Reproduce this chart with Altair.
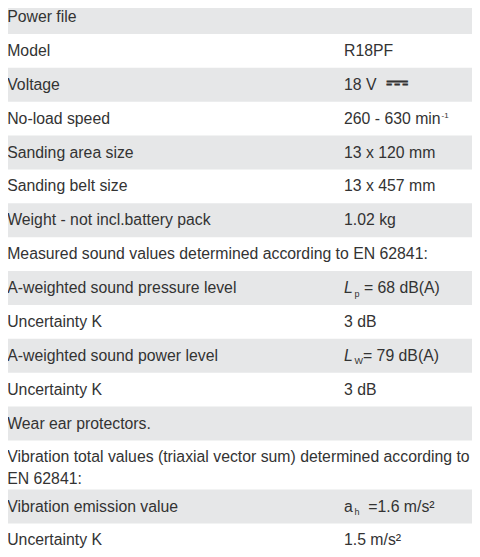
import altair as alt
import pandas as pd

# ---- table content ----
labels = [
    "Power file",
    "Model",
    "Voltage",
    "No-load speed",
    "Sanding area size",
    "Sanding belt size",
    "Weight - not incl.battery pack",
    "Measured sound values determined according to EN 62841:",
    "A-weighted sound pressure level",
    "Uncertainty K",
    "A-weighted sound power level",
    "Uncertainty K",
    "Wear ear protectors.",
    "Vibration total values (triaxial vector sum) determined according to\nEN 62841:",
    "Vibration emission value",
    "Uncertainty K",
]
values = [
    "",
    "R18PF",
    "18 V",
    "260 - 630 min",
    "13 x 120 mm",
    "13 x 457 mm",
    "1.02 kg",
    "",
    "",
    "3 dB",
    "",
    "3 dB",
    "",
    "",
    "",
    "1.5 m/s\u00b2",
]
dc_row = 2
dc_symbol = "\u2393"
sup_row = 3
sup_text = "-1"
# values written with a symbol + subscript
sym_rows = [8, 10, 14]
sym_main = ["L", "L", "a"]
sym_italic = [True, True, False]
sym_sub = ["p", "W", "h"]
sym_rest = ["= 68 dB(A)", "= 79 dB(A)", "=1.6 m/s\u00b2"]
sym_gap = [1, 0, 2]   # spaces before the rest of the text

# ---- layout (styles) ----
PITCH = 33.88          # pixel height of a one-line row
EXTRA = 0.45           # extra row units per additional text line
W, HT = 464, 541
Y0 = 8                 # first visible pixel of the table
FONT = "Liberation Sans, Arial, DejaVu Sans, sans-serif"
TXT = "#333333"
GRAY = "#e6e7e8"
FS = 15.8
DY = 22
VAL_X = 336
SPACE = 4.4

tops, bottoms = [], []
t = 0.0
for lab in labels:
    tops.append(t)
    t += 1 + EXTRA * lab.count("\n")
    bottoms.append(t)

df = pd.DataFrame({
    "row": list(range(len(labels))),
    "label": labels,
    "value": values,
    "top": tops,
    "bottom": bottoms,
})
df["shade"] = (df["row"] % 2 == 0)

yscale = alt.Scale(domain=[Y0 / PITCH, (Y0 + HT) / PITCH], reverse=True, nice=False, zero=False)
Y = alt.Y("top:Q", scale=yscale, axis=None)

base = alt.Chart(df)

bg = base.transform_filter("datum.shade").mark_rect(color=GRAY, clip=True).encode(
    x=alt.value(0), x2=alt.value("width"), y=Y, y2="bottom:Q"
)

txt_kw = dict(align="left", baseline="alphabetic", dy=DY, fontSize=FS, font=FONT, color=TXT)

label_txt = base.mark_text(lineBreak="\n", lineHeight=21.5, **txt_kw).encode(
    x=alt.value(-0.8), y=Y, text="label:N"
)

value_txt = base.transform_filter("datum.value != ''").mark_text(**txt_kw).encode(
    x=alt.value(VAL_X), y=Y, text="value:N"
)

layers = [bg, label_txt, value_txt]

# direct-current symbol after the voltage
layers.append(
    base.transform_filter(f"datum.row == {dc_row}")
    .mark_text(align="left", baseline="alphabetic", dy=DY + 1.5, dx=42, fontSize=28,
               fontWeight="bold", font="DejaVu Sans", color=TXT)
    .encode(x=alt.value(VAL_X), y=Y, text=alt.value(dc_symbol))
)
# superscript of min-1
layers.append(
    base.transform_filter(f"datum.row == {sup_row}")
    .mark_text(align="left", baseline="alphabetic", dy=DY - 6, dx=97.5, fontSize=8,
               font=FONT, color=TXT)
    .encode(x=alt.value(VAL_X), y=Y, text=alt.value(sup_text))
)

sub_w = {"p": 5.0, "W": 8.5, "h": 5.0}
for r, m, it, s, rest, gap in zip(sym_rows, sym_main, sym_italic, sym_sub, sym_rest, sym_gap):
    rb = base.transform_filter(f"datum.row == {r}")
    kw = dict(txt_kw)
    if it:
        kw["fontStyle"] = "italic"
    layers.append(rb.mark_text(**kw).encode(x=alt.value(VAL_X), y=Y, text=alt.value(m)))
    sub_dx = 10.5
    layers.append(rb.mark_text(align="left", baseline="alphabetic", dy=DY + 3.5, dx=sub_dx,
                               fontSize=9, font=FONT, color=TXT)
                  .encode(x=alt.value(VAL_X), y=Y, text=alt.value(s)))
    layers.append(rb.mark_text(**dict(txt_kw, dx=sub_dx + sub_w[s] + gap * SPACE))
                  .encode(x=alt.value(VAL_X), y=Y, text=alt.value(rest)))

chart = alt.layer(*layers).properties(
    width=W, height=HT, padding=0, autosize=alt.AutoSizeParams(type="none"),
    background="white",
).configure_view(stroke=None)

chart.save("out.html", embed_options={"renderer": "svg", "actions": False})
